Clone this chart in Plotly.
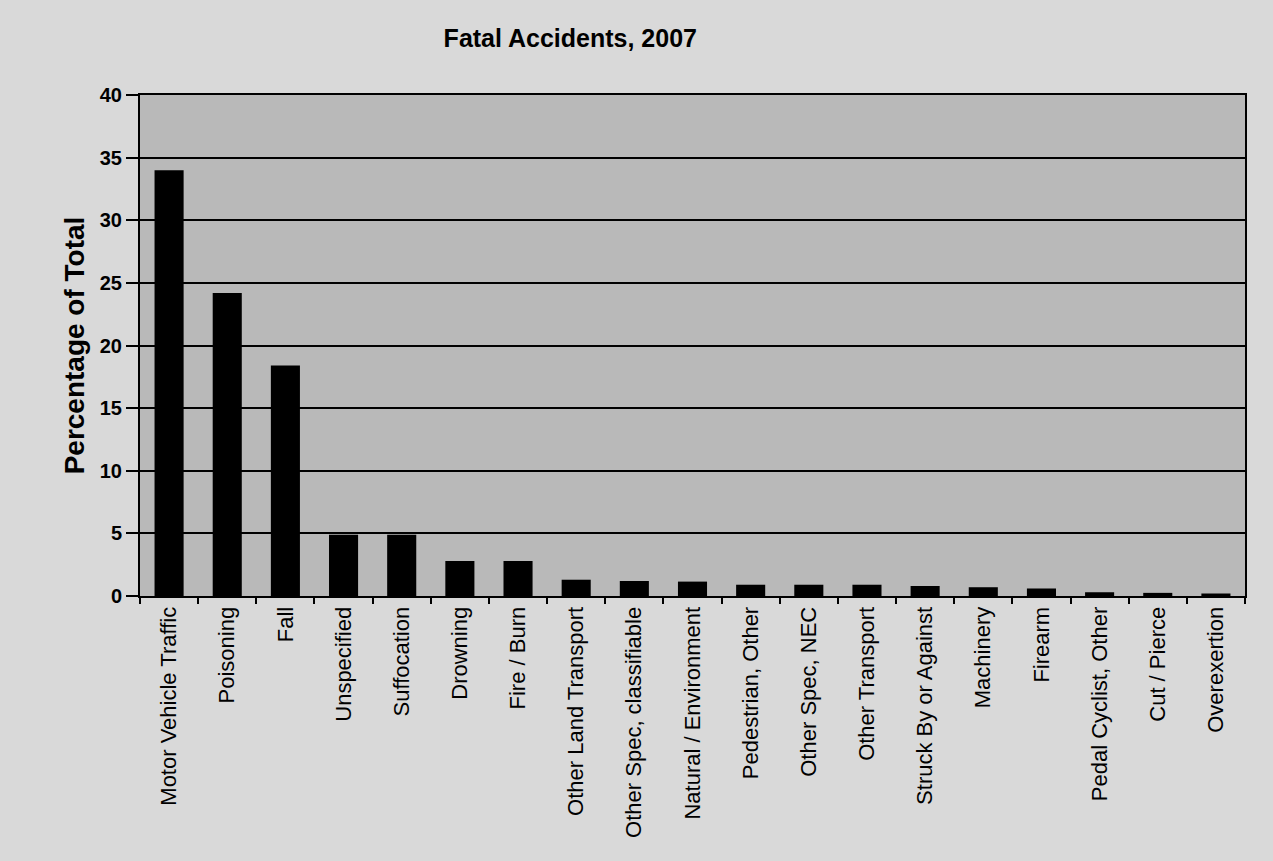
import plotly.graph_objects as go

categories = [
    "Motor Vehicle Traffic", "Poisoning", "Fall", "Unspecified", "Suffocation",
    "Drowning", "Fire / Burn", "Other Land Transport", "Other Spec, classifiable",
    "Natural / Environment", "Pedestrian, Other", "Other Spec, NEC",
    "Other Transport", "Struck By or Against", "Machinery", "Firearm",
    "Pedal Cyclist, Other", "Cut / Pierce", "Overexertion",
]
percent_of_total = [
    34.0, 24.2, 18.4, 4.9, 4.9,
    2.8, 2.8, 1.3, 1.2,
    1.15, 0.9, 0.9,
    0.9, 0.8, 0.7, 0.6,
    0.3, 0.25, 0.2,
]
y_ticks = [0, 5, 10, 15, 20, 25, 30, 35, 40]

fig = go.Figure(
    go.Bar(
        x=categories,
        y=percent_of_total,
        marker=dict(color="#000000", line=dict(width=0)),
    )
)

fig.update_layout(
    width=1273,
    height=861,
    margin=dict(l=140, r=28, t=95, b=265),
    paper_bgcolor="#d9d9d9",
    plot_bgcolor="#b9b9b9",
    bargap=0.5,
    showlegend=False,
    font=dict(family="Liberation Sans, Arial, sans-serif", color="#000000"),
    title=dict(
        text="<b>Fatal Accidents, 2007</b>",
        x=0.448, xanchor="center",
        y=0.966, yanchor="top",
        font=dict(size=25, family="Liberation Sans Narrow, Liberation Sans, Arial"),
    ),
)

fig.update_xaxes(
    type="category",
    tickangle=-90,
    tickfont=dict(size=22),
    ticks="outside",
    tickson="boundaries",
    ticklen=6,
    tickwidth=2,
    tickcolor="#000000",
    showline=True,
    linecolor="#000000",
    linewidth=2,
    mirror=True,
    showgrid=False,
)

fig.update_yaxes(
    range=[0, 40],
    tickvals=y_ticks,
    ticktext=[f"<b>{v}</b>" for v in y_ticks],
    tickfont=dict(size=20),
    ticks="outside",
    ticklen=12,
    tickwidth=2,
    tickcolor="#000000",
    showline=True,
    linecolor="#000000",
    linewidth=2,
    mirror=True,
    showgrid=True,
    gridcolor="#000000",
    gridwidth=2,
    zeroline=False,
    title=dict(
        text="<b>Percentage of Total</b>",
        font=dict(size=28),
        standoff=7,
    ),
)

fig.write_html("out.html")
